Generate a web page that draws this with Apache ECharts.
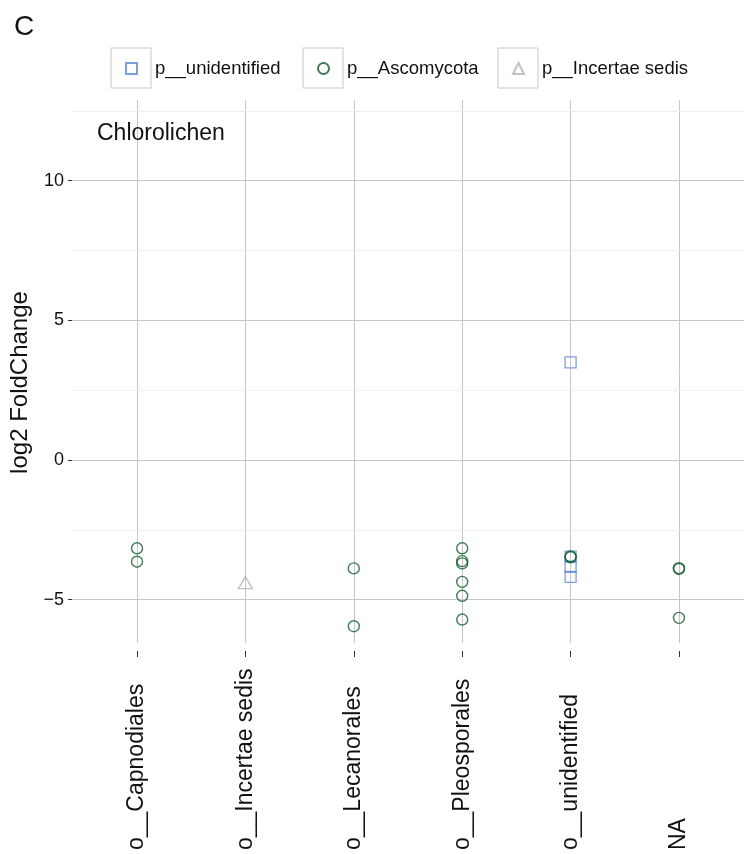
<!DOCTYPE html>
<html>
<head>
<meta charset="utf-8">
<script src="https://cdn.jsdelivr.net/npm/echarts@6/dist/echarts.min.js"></script>
<style>
  html, body { margin: 0; padding: 0; background: #fff; }
  #chart { width: 744px; height: 854px; }
</style>
</head>
<body>
<div id="chart"></div>
<script>
const categories = ["o__Capnodiales", "o__Incertae sedis", "o__Lecanorales", "o__Pleosporales", "o__unidentified", "NA"];
const yTicks = [-5, 0, 5, 10];
const yMinor = [-2.5, 2.5, 7.5, 12.5];

const unidentifiedOrder = ["o__unidentified", "o__unidentified", "o__unidentified", "o__unidentified"];
const unidentifiedLfc = [3.5, -3.46, -3.82, -4.18];

const ascoOrder = [
  "o__Capnodiales", "o__Capnodiales",
  "o__Lecanorales", "o__Lecanorales",
  "o__Pleosporales", "o__Pleosporales", "o__Pleosporales", "o__Pleosporales", "o__Pleosporales", "o__Pleosporales",
  "o__unidentified", "o__unidentified",
  "NA", "NA", "NA"
];
const ascoLfc = [
  -3.16, -3.64,
  -3.88, -5.95,
  -3.16, -3.62, -3.7, -4.36, -4.86, -5.71,
  -3.45, -3.48,
  -3.87, -3.9, -5.65
];

const incertaeOrder = ["o__Incertae sedis"];
const incertaeLfc = [-4.39];

const toPoints = (order, lfc) => order.map((c, i) => [categories.indexOf(c), lfc[i]]);

const gridColor = "#c6c6c6";
const textColor = "#111";
const font = "Liberation Sans, Arial, sans-serif";

const hollow = (color, w) => ({ color: "rgba(0,0,0,0)", borderColor: color, borderWidth: w });

const option = {
  animation: false,
  backgroundColor: "#fff",
  textStyle: { fontFamily: font },
  title: [
    { text: "C", left: 14, top: 13, padding: 0,
      textStyle: { fontSize: 28, fontWeight: "normal", color: textColor, fontFamily: font } },
    { text: "Chlorolichen", left: 97, top: 122, padding: 0,
      textStyle: { fontSize: 23, fontWeight: "normal", color: textColor, fontFamily: font } },
  ],
  legend: [
    { data: ["p__unidentified"], left: 125 },
    { data: ["p__Ascomycota"], left: 317 },
    { data: ["p__Incertae sedis"], left: 512 },
  ].map((l) => ({
    ...l,
    top: 59,
    itemWidth: 11,
    itemHeight: 11,
    padding: 0,
    textStyle: { fontSize: 18.5, color: textColor, fontFamily: font, padding: [0, 0, 0, 13] },
  })),
  graphic: [111, 303, 498].map((x) => ({
    type: "rect",
    shape: { x: x, y: 48, width: 40, height: 40 },
    style: { fill: "none", stroke: "#c8c8c8", lineWidth: 1 },
    silent: true,
  })),
  grid: { left: 72, right: 0, top: 100, bottom: 211 },
  xAxis: {
    type: "value",
    min: -0.6,
    max: 5.6,
    offset: 8,
    axisLine: { show: false, onZero: false },
    axisTick: { length: 6, lineStyle: { color: "#333" }, customValues: [0, 1, 2, 3, 4, 5] },
    axisLabel: {
      customValues: [0, 1, 2, 3, 4, 5],
      formatter: (v) => categories[Math.round(v)],
      rotate: 90,
      align: "left",
      margin: 199,
      fontSize: 23,
      color: textColor,
      fontFamily: font,
    },
    splitLine: { show: true, lineStyle: { color: gridColor, width: 1 } },
  },
  yAxis: {
    type: "value",
    min: -6.55,
    max: 12.89,
    name: "log2 FoldChange",
    nameLocation: "middle",
    nameGap: 35,
    nameTextStyle: { fontSize: 24, color: textColor, fontFamily: font, padding: [0, 22, 0, 0] },
    axisLine: { show: false, onZero: false },
    axisTick: { show: true, length: 4, lineStyle: { color: "#333" }, customValues: yTicks },
    axisLabel: {
      customValues: yTicks,
      margin: 8,
      fontSize: 18,
      color: textColor,
      fontFamily: font,
      formatter: (v) => String(v).replace("-", "\u2212"),
    },
    splitLine: { show: true, lineStyle: { color: gridColor, width: 1 } },
  },
  series: [
    {
      name: "p__unidentified",
      type: "scatter",
      symbol: "rect",
      symbolSize: 11,
      itemStyle: hollow("#5f86d3", 1.3),
      data: toPoints(unidentifiedOrder, unidentifiedLfc),
      z: 3,
      markLine: {
        silent: true,
        symbol: "none",
        label: { show: false },
        lineStyle: { color: "#eeeeee", width: 1, type: "solid" },
        data: yMinor.map((v) => ({ yAxis: v })),
        z: 1,
      },
    },
    {
      name: "p__Ascomycota",
      type: "scatter",
      symbol: "circle",
      symbolSize: 11,
      itemStyle: hollow("#105c2c", 1.4),
      data: toPoints(ascoOrder, ascoLfc),
      z: 4,
    },
    {
      name: "p__Incertae sedis",
      type: "scatter",
      symbol: "triangle",
      symbolSize: [14, 12],
      itemStyle: hollow("#b3b3b3", 1.3),
      data: toPoints(incertaeOrder, incertaeLfc),
      z: 3,
    },
  ],
};

echarts.init(document.getElementById("chart"), null, { renderer: "canvas" }).setOption(option);
</script>
</body>
</html>
